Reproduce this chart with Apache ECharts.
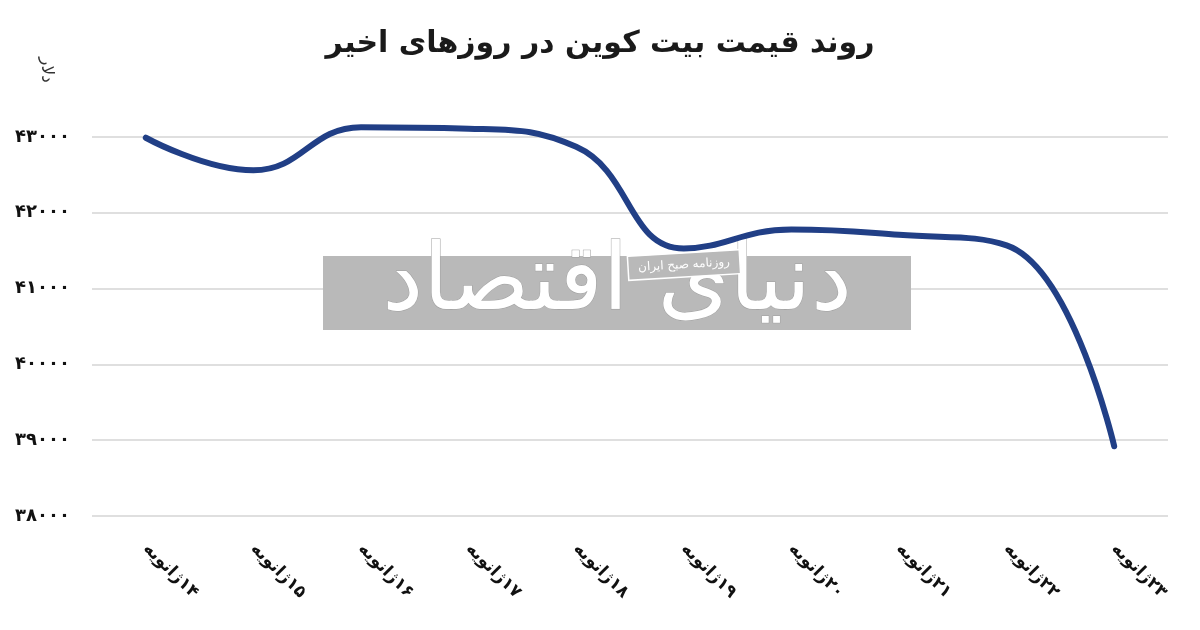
<!DOCTYPE html>
<html>
<head>
<meta charset="utf-8">
<script src="https://cdn.jsdelivr.net/npm/echarts@6/dist/echarts.min.js"></script>
<style>
html,body{margin:0;padding:0;background:#fff;}
#c{width:1200px;height:630px;}
</style>
</head>
<body>
<div id="c"></div>
<script>
const titleText = 'روند قیمت بیت کوین در روزهای اخیر';
const unitText = 'دلار';
const categories = ['۱۴ژانویه','۱۵ژانویه','۱۶ژانویه','۱۷ژانویه','۱۸ژانویه','۱۹ژانویه','۲۰ژانویه','۲۱ژانویه','۲۲ژانویه','۲۳ژانویه'];
const prices = [42990, 42560, 43130, 43110, 42870, 41530, 41780, 41710, 41570, 38920];
const yMin = 38000, yMax = 43000, yStep = 1000;

const faDigits = '۰۱۲۳۴۵۶۷۸۹';
function toFa(n){ return String(n).replace(/[0-9]/g, d => faDigits[+d]); }
const RLM = '\u200F';

const FONT = "'DejaVu Sans', 'Noto Sans', sans-serif";
const chart = echarts.init(document.getElementById('c'));
chart.setOption({
  backgroundColor: '#ffffff',
  animation: false,
  title: {
    text: titleText, left: 'center', top: 24,
    textStyle: { fontFamily: FONT, fontSize: 30, fontWeight: 'bold', color: '#1a1a1a' }
  },
  grid: { left: 92, right: 32, top: 137, bottom: 114 },
  xAxis: {
    type: 'category', data: categories, boundaryGap: true,
    axisLine: { show: false }, axisTick: { show: false },
    axisLabel: { rotate: -45, margin: 30, fontFamily: FONT, fontSize: 17, fontWeight: 'bold', color: '#111', interval: 0,
      formatter: v => RLM + v + RLM }
  },
  yAxis: {
    type: 'value', min: yMin, max: yMax, interval: yStep,
    axisLine: { show: false }, axisTick: { show: false },
    axisLabel: { margin: 22, fontFamily: FONT, fontSize: 18, fontWeight: 'bold', color: '#111', formatter: v => toFa(v) },
    splitLine: { lineStyle: { color: '#d4d4d4', width: 1.5 } }
  },
  graphic: [
    { type: 'rect', z: 1, shape: { x: 323, y: 256, width: 588, height: 74 }, style: { fill: '#b9b9b9' } },
    { type: 'text', z: 2, x: 617, y: 285, style: { text: 'دنیای اقتصاد', font: "92px 'DejaVu Sans'", fill: '#ffffff', stroke: '#a0a0a0', lineWidth: 1, textAlign: 'center', textVerticalAlign: 'middle' } },
    { type: 'rect', z: 10, x: 684, y: 265, rotation: 0.06, shape: { x: -56, y: -12, width: 112, height: 24 }, style: { fill: '#b9b9b9', stroke: '#ffffff', lineWidth: 1.5 } },
    { type: 'text', z: 11, x: 684, y: 265, rotation: 0.06, style: { text: 'روزنامه صبح ایران', font: "12px 'DejaVu Sans'", fill: '#ffffff', textAlign: 'center', textVerticalAlign: 'middle' } },
    { type: 'text', x: 46, y: 70, rotation: -Math.PI / 2, style: { text: unitText, font: "17px 'DejaVu Sans'", fill: '#333', textAlign: 'center', textVerticalAlign: 'middle' } }
  ],
  series: [{
    type: 'line', data: prices, smooth: 0.45, showSymbol: false, clip: false, z: 5,
    lineStyle: { color: '#213f86', width: 6, cap: 'round', join: 'round' }
  }]
});
</script>
</body>
</html>
